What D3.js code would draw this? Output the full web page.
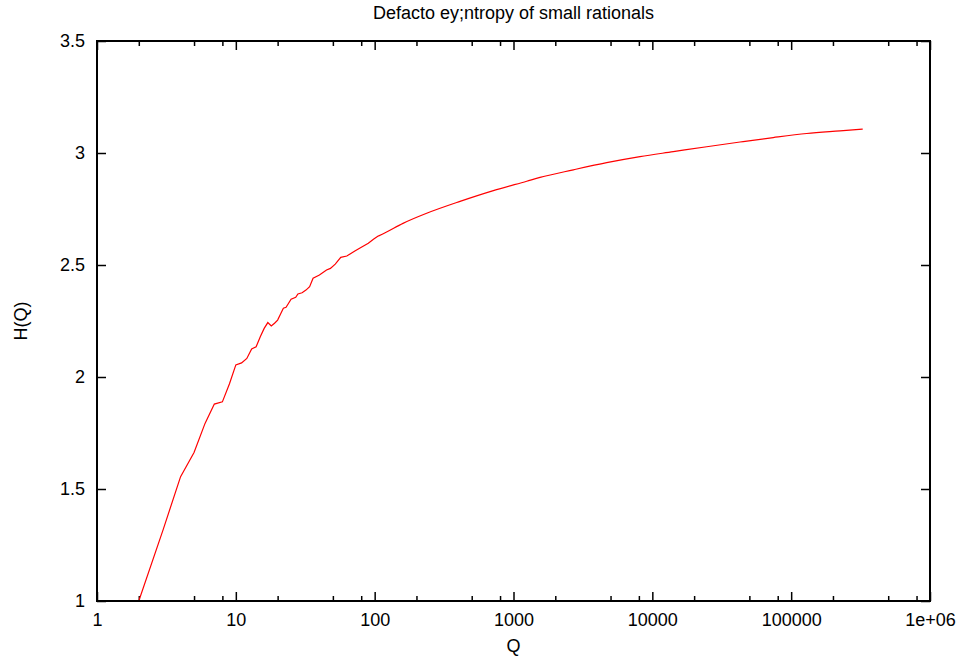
<!DOCTYPE html>
<meta charset="utf-8">
<style>
body { margin: 0; background: #fff; }
text { font-family: "Liberation Sans", Arial, sans-serif; font-size: 18px; fill: #000; }
.axis path { display: none; }
.axis line { stroke: #000; stroke-width: 1.5px; }
.frame { fill: none; stroke: #000; stroke-width: 2px; }
.curve { fill: none; stroke: #ff0000; stroke-width: 1.2px; }
</style>
<svg width="962" height="658"></svg>
<script src="https://d3js.org/d3.v7.min.js"></script>
<script>

// values
var qValues = [2, 3, 4, 5, 6, 7, 8, 9, 10, 11, 12, 13, 14, 15, 16, 17, 18, 19, 20, 21,
  22, 23, 25, 27, 28, 30, 32, 34, 36, 40, 45, 48, 52, 57, 63, 72, 79, 90, 98, 106,
  119, 160, 237, 412, 716, 1245, 1553, 2698, 4690, 8150, 14160, 24630, 42830,
  74310, 129400, 224900, 327600];
var hValues = [1, 1.32, 1.555, 1.663, 1.793, 1.879, 1.889, 1.97, 2.054, 2.063, 2.083,
  2.125, 2.135, 2.18, 2.217, 2.243, 2.228, 2.24, 2.254, 2.281, 2.307, 2.311, 2.347,
  2.356, 2.371, 2.376, 2.388, 2.403, 2.441, 2.455, 2.478, 2.485, 2.504, 2.534, 2.54,
  2.5625, 2.577, 2.597, 2.615, 2.629, 2.644, 2.686, 2.731, 2.784, 2.832, 2.874,
  2.891, 2.925, 2.957, 2.984, 3.006, 3.028, 3.049, 3.069, 3.087, 3.099, 3.107];

var xMajor = [1, 10, 100, 1000, 10000, 100000, 1000000];
var xTickLabels = ["1", "10", "100", "1000", "10000", "100000", "1e+06"];
var xMinorSteps = [2, 5, 8];
var yTicks = [1, 1.5, 2, 2.5, 3, 3.5];

var title = "Defacto ey;ntropy of small rationals";

var svg = d3.select("svg"),
    margin = {top: 41, right: 32, bottom: 57, left: 97},
    width = +svg.attr("width") - margin.left - margin.right,
    height = +svg.attr("height") - margin.top - margin.bottom,
    g = svg.append("g").attr("transform", "translate(" + margin.left + "," + margin.top + ")");

var x = d3.scaleLog().domain([1, 1e6]).range([0, width]);
var y = d3.scaleLinear().domain([1, 3.5]).range([height, 0]);

var xMinor = [];
xMajor.slice(0, -1).forEach(function(d) {
  xMinorSteps.forEach(function(m) { xMinor.push(d * m); });
});

var data = qValues.map(function(q, i) { return {q: q, h: hValues[i]}; });

// minor ticks, bottom and top
g.append("g").attr("class", "axis")
    .attr("transform", "translate(0," + height + ")")
    .call(d3.axisBottom(x).tickValues(xMinor).tickSizeInner(-5).tickSizeOuter(0).tickFormat(""));
g.append("g").attr("class", "axis")
    .call(d3.axisTop(x).tickValues(xMinor).tickSizeInner(-5).tickSizeOuter(0).tickFormat(""));

// major ticks
g.append("g").attr("class", "axis axis--x")
    .attr("transform", "translate(0," + height + ")")
    .call(d3.axisBottom(x).tickValues(xMajor).tickSizeInner(-9).tickSizeOuter(0).tickPadding(12)
      .tickFormat(function(d, i) { return xTickLabels[i]; }));
g.append("g").attr("class", "axis")
    .call(d3.axisTop(x).tickValues(xMajor).tickSizeInner(-9).tickSizeOuter(0).tickFormat(""));

g.append("g").attr("class", "axis axis--y")
    .call(d3.axisLeft(y).tickValues(yTicks).tickSizeInner(-9).tickSizeOuter(0).tickPadding(12)
      .tickFormat(d3.format("")));
g.append("g").attr("class", "axis")
    .attr("transform", "translate(" + width + ",0)")
    .call(d3.axisRight(y).tickValues(yTicks).tickSizeInner(-9).tickSizeOuter(0).tickFormat(""));

g.selectAll(".axis text").attr("fill", "#000");

g.append("clipPath").attr("id", "clip")
  .append("rect").attr("width", width).attr("height", height);

// jagged start is straight segments, the long tail is smooth
var split = qValues.indexOf(106);

var line = d3.line()
    .x(function(d) { return x(d.q); })
    .y(function(d) { return y(d.h); });

var smooth = d3.line()
    .curve(d3.curveMonotoneX)
    .x(function(d) { return x(d.q); })
    .y(function(d) { return y(d.h); });

g.append("path")
    .datum(data.slice(0, split + 1))
    .attr("class", "curve")
    .attr("clip-path", "url(#clip)")
    .attr("d", line);

g.append("path")
    .datum(data.slice(split))
    .attr("class", "curve")
    .attr("clip-path", "url(#clip)")
    .attr("d", smooth);

g.append("rect").attr("class", "frame")
    .attr("width", width).attr("height", height);

svg.append("text")
    .attr("x", margin.left + width / 2).attr("y", 19)
    .attr("text-anchor", "middle")
    .text(title);

svg.append("text")
    .attr("x", margin.left + width / 2).attr("y", 652)
    .attr("text-anchor", "middle")
    .text("Q");

svg.append("text")
    .attr("transform", "translate(27," + (margin.top + height / 2) + ") rotate(-90)")
    .attr("text-anchor", "middle")
    .text("H(Q)");

</script>
